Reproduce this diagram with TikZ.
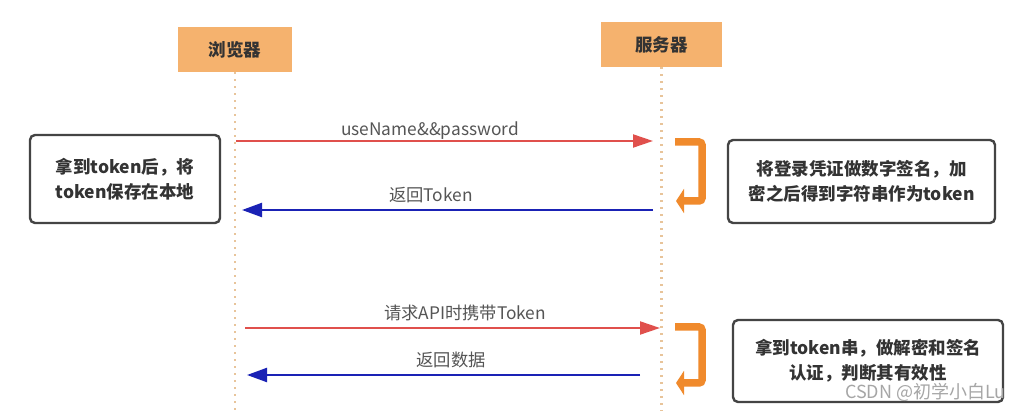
\documentclass[tikz,border=0pt]{standalone}
\usepackage{fontspec}
\newfontfamily\cjk{Noto Sans CJK SC}
\usetikzlibrary{arrows.meta}
\definecolor{hdrfill}{HTML}{F5B26E}
\definecolor{lifec}{HTML}{E8C49A}
\definecolor{redc}{HTML}{E0504C}
\definecolor{bluec}{HTML}{1A22B5}
\definecolor{orc}{HTML}{F08A2C}
\definecolor{txtc}{HTML}{333333}
\definecolor{lblc}{HTML}{555555}
\definecolor{boxc}{HTML}{444444}
\begin{document}
\begin{tikzpicture}[x=1pt,y=-1pt,
  hdr/.style={fill=hdrfill, inner sep=0pt, font=\cjk\bfseries\fontsize{17.5}{20}\selectfont, text=txtc},
  life/.style={lifec, line width=2.2pt, dash pattern=on 2pt off 5pt},
  req/.style={redc, line width=2pt, -{Triangle[length=20pt,width=13pt]}},
  resp/.style={bluec, line width=2.2pt, -{Triangle[length=20pt,width=14pt]}},
  lbl/.style={font=\cjk\fontsize{17.3}{20}\selectfont, text=lblc, inner sep=0pt},
  note/.style={draw=boxc, line width=2.4pt, rounded corners=5pt, align=center,
    font=\cjk\bfseries\fontsize{17.5}{25}\selectfont, text=txtc, inner sep=0pt},
  loopar/.style={orc, line width=7.5pt, rounded corners=3pt, -{Triangle[length=8pt,width=24pt]}}
]
\useasboundingbox (0,0) rectangle (1020,411);
\fill[white] (0,0) rectangle (1020,411);

% headers
\node[hdr, minimum width=114pt, minimum height=45pt] (br) at (235,49.5) {浏览器};
\node[hdr, minimum width=121pt, minimum height=45pt] (sv) at (661.5,44.5) {服务器};

% lifelines
\coordinate (brb) at (235,411);
\coordinate (svb) at (661.5,411);
\draw[life] (br.south) -- (brb);
\draw[life] (sv.south) -- (svb);

% messages
\coordinate (m1s) at (236,141);  \coordinate (m1e) at (653,141);
\coordinate (m2s) at (653,210);  \coordinate (m2e) at (242,210);
\coordinate (m3s) at (245,328);  \coordinate (m3e) at (660,328);
\coordinate (m4s) at (640,375);  \coordinate (m4e) at (247,375);
\draw[req] (m1s) -- (m1e);
\draw[resp] (m2s) -- (m2e);
\draw[req] (m3s) -- (m3e);
\draw[resp] (m4s) -- (m4e);

\node[lbl] (l1) at (430,131) {useName\&\&password};
\node[lbl] (l2) at (431,195) {返回Token};
\node[lbl] (l3) at (465,313) {请求API时携带Token};
\node[lbl] (l4) at (451,360) {返回数据};

% self loops
\coordinate (a1) at (675,142); \coordinate (a2) at (702,142);
\coordinate (a3) at (702,201); \coordinate (a4) at (676,201);
\draw[loopar] (a1) -- (a2) -- (a3) -- (a4);
\coordinate (b1) at (675,327); \coordinate (b2) at (702,327);
\coordinate (b3) at (702,383); \coordinate (b4) at (676,383);
\draw[loopar] (b1) -- (b2) -- (b3) -- (b4);

% notes
\node[note, minimum width=190pt, minimum height=88pt] (n1) at (125,179)
  {拿到token后，将\\token保存在本地};
\node[note, minimum width=267pt, minimum height=83pt] (n2) at (861.5,181.5)
  {将登录凭证做数字签名，加\\密之后得到字符串作为token};
\node[note, minimum width=270pt, minimum height=82pt] (n3) at (868,361)
  {拿到token串，做解密和签名\\认证，判断其有效性};

% watermark
\node[anchor=east, inner sep=0pt, font=\cjk\fontsize{18}{20}\selectfont, text=black!35] (wm) at (1006,392) {CSDN @初学小白Lu};
\end{tikzpicture}
\end{document}
